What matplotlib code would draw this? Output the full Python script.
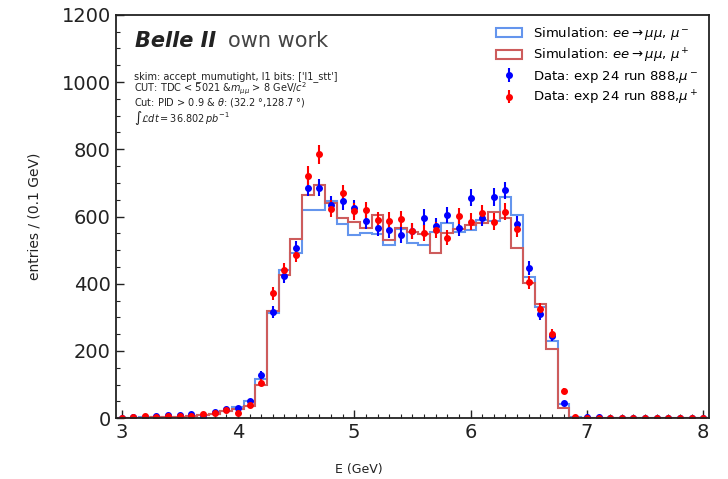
import numpy as np
import matplotlib
matplotlib.use('Agg')
import matplotlib.pyplot as plt

# bin centres, 0.1 GeV wide
energy = np.round(np.arange(3.0, 8.01, 0.1), 1)
edges = np.round(np.arange(2.95, 8.06, 0.1), 2)

mc_minus = [0, 1, 2, 2, 3, 4, 6, 9, 13, 20,
            32, 50, 118, 312, 442, 490, 620, 618, 645, 578,
            545, 550, 548, 515, 562, 522, 516, 555, 582, 553,
            560, 590, 588, 657, 605, 420, 330, 230, 42, 2,
            1, 1, 0, 0, 0, 0, 0, 0, 0, 0, 0]
mc_plus = [0, 1, 1, 2, 3, 4, 5, 8, 12, 20,
           28, 37, 100, 318, 425, 532, 663, 693, 640, 597,
           585, 565, 603, 530, 565, 555, 547, 490, 552, 562,
           575, 580, 612, 597, 506, 403, 340, 205, 30, 1,
           0, 0, 0, 0, 0, 0, 0, 0, 0, 0, 0]
data_minus = [0, 2, 3, 5, 9, 9, 11, 4, 18, 28,
              31, 50, 129, 316, 424, 505, 686, 686, 635, 645,
              624, 588, 565, 559, 545, 558, 597, 572, 605, 565,
              656, 596, 658, 678, 577, 446, 310, 245, 45, 1,
              3, 2, 1, 1, 1, 0, 1, 0, 1, 0, 1]
data_plus = [1, 4, 6, 3, 5, 6, 6, 12, 14, 25,
             16, 39, 105, 371, 442, 486, 722, 785, 623, 669,
             615, 619, 590, 588, 592, 558, 552, 560, 537, 601,
             585, 609, 585, 614, 563, 404, 325, 250, 82, 2,
             1, 1, 1, 1, 1, 1, 1, 1, 1, 1, 1]

info_lines = ["skim: accept_mumutight, l1 bits: ['l1_stt']",
              r"CUT: TDC < 5021 &$m_{\mu\mu}$ > 8 GeV/$c^2$",
              r"Cut: PID > 0.9 & $\theta$: (32.2 °,128.7 °)",
              r"$\int\mathcal{L}dt = 36.802\,pb^{-1}$"]

fig = plt.figure(figsize=(7.28, 4.79), dpi=100)
ax = fig.add_axes([0.159, 0.127, 0.815, 0.842])

ax.hist(energy, bins=edges, weights=mc_minus, histtype='step', color='#6495ED',
        linewidth=1.5, label=r'Simulation: $ee \rightarrow \mu\mu$, $\mu^-$')
ax.hist(energy, bins=edges, weights=mc_plus, histtype='step', color='#CD5C5C',
        linewidth=1.5, label=r'Simulation: $ee \rightarrow \mu\mu$, $\mu^+$')
ax.errorbar(energy, data_minus, yerr=np.sqrt(data_minus), fmt='o', color='blue',
            markersize=4, elinewidth=1.5, capsize=0, label=r'Data: exp 24 run 888,$\mu^-$')
ax.errorbar(energy, data_plus, yerr=np.sqrt(data_plus), fmt='o', color='red',
            markersize=4, elinewidth=1.5, capsize=0, label=r'Data: exp 24 run 888,$\mu^+$')

ax.set_xlim(2.95, 8.05)
ax.set_ylim(0, 1200)
ax.set_xticks([3, 4, 5, 6, 7, 8])
ax.set_xticks(np.arange(3.0, 8.01, 0.1), minor=True)
ax.set_yticks(np.arange(0, 1201, 200))
ax.set_yticks(np.arange(0, 1201, 50), minor=True)
ax.tick_params(which='both', direction='in', colors='#222222', labelsize=14)
ax.tick_params(which='major', length=6, width=1)
ax.tick_params(which='minor', length=3, width=0.8)
for s in ax.spines.values():
    s.set_linewidth(1.3)
    s.set_color('#222222')

ax.set_xlabel('E (GeV)', fontsize=9, color='#222222')
ax.set_ylabel('entries / (0.1 GeV)', fontsize=10, color='#222222')
ax.xaxis.set_label_coords(0.41, -0.11)
ax.yaxis.set_label_coords(-0.125, 0.5)

ax.text(0.032, 0.934, 'Belle II', transform=ax.transAxes, fontsize=15,
        fontweight='bold', fontstyle='italic', va='center', color='#222222')
ax.text(0.189, 0.934, 'own work', transform=ax.transAxes, fontsize=15,
        va='center', color='#444444')
for y, line in zip([0.848, 0.816, 0.783, 0.745], info_lines):
    ax.text(0.030, y, line, transform=ax.transAxes,
            fontsize=7, va='center', color='#222222')

ax.legend(loc='upper right', fontsize=9.5, frameon=False, labelspacing=0.3,
          borderaxespad=0.4)

fig.savefig('out.png', dpi=100)
